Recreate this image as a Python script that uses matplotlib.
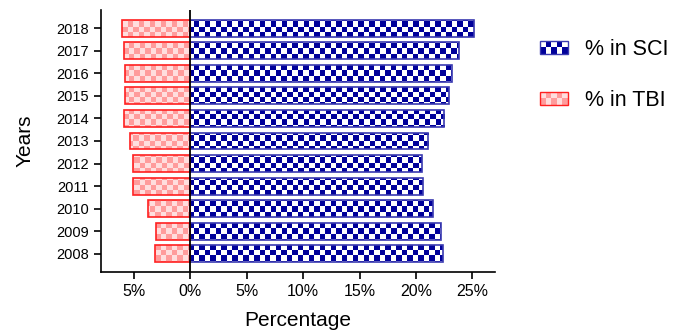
import numpy as np
import matplotlib
matplotlib.use("Agg")
import matplotlib.pyplot as plt
from matplotlib.colors import ListedColormap
from matplotlib.patches import Rectangle
from matplotlib.legend_handler import HandlerBase
from matplotlib.ticker import FuncFormatter

plt.rcParams['font.family'] = ['Liberation Sans', 'DejaVu Sans']

years = [2008, 2009, 2010, 2011, 2012, 2013, 2014, 2015, 2016, 2017, 2018]
sci_pct = [22.4, 22.2, 21.5, 20.6, 20.5, 21.1, 22.5, 22.9, 23.2, 23.8, 25.1]
tbi_pct = [3.1, 3.0, 3.7, 5.1, 5.1, 5.3, 5.9, 5.8, 5.8, 5.9, 6.0]
x_ticks = [-5, 0, 5, 10, 15, 20, 25]

SCI_DARK, SCI_LIGHT, SCI_EDGE = "#00009a", "#ffffff", "#3a3ab0"
TBI_DARK, TBI_LIGHT, TBI_EDGE = "#ff9c9c", "#ffdede", "#ff2020"
CELL_PX = 5.5


def checker_fill(ax, fig, bars, c1, c2):
    # tile a checkerboard over the axes and clip it to each bar outline
    x0, x1 = ax.get_xlim()
    y0, y1 = ax.get_ylim()
    pos = ax.get_position()
    w_px = pos.width * fig.get_figwidth() * fig.dpi
    h_px = pos.height * fig.get_figheight() * fig.dpi
    nx, ny = int(round(w_px / CELL_PX)), int(round(h_px / CELL_PX))
    grid = np.indices((ny, nx)).sum(0) % 2
    cmap = ListedColormap([c1, c2])
    for bar in bars:
        im = ax.imshow(grid, cmap=cmap, extent=(x0, x1, y0, y1), aspect="auto",
                       interpolation="nearest", origin="lower", zorder=1)
        im.set_clip_path(bar)
    ax.set_xlim(x0, x1)
    ax.set_ylim(y0, y1)


class CheckerHandler(HandlerBase):
    def __init__(self, c1, c2, edge, nx=5, ny=2):
        super().__init__()
        self.c1, self.c2, self.edge = c1, c2, edge
        self.nx, self.ny = nx, ny

    def create_artists(self, legend, orig_handle, xdescent, ydescent,
                       width, height, fontsize, trans):
        cw, ch = width / self.nx, height / self.ny
        out = []
        for i in range(self.nx):
            for j in range(self.ny):
                col = self.c1 if (i + j) % 2 == 0 else self.c2
                out.append(Rectangle((-xdescent + i * cw, -ydescent + j * ch), cw, ch,
                                     facecolor=col, edgecolor="none", transform=trans))
        out.append(Rectangle((-xdescent, -ydescent), width, height, facecolor="none",
                             edgecolor=self.edge, lw=1.0, transform=trans))
        return out


fig = plt.figure(figsize=(6.84, 3.34), dpi=100)
ax = fig.add_axes([101 / 684, 62 / 334, 394 / 684, 262 / 334])
ax.set_xlim(-7.9, 27.0)
ax.set_ylim(-0.8, 10.8)

ypos = np.arange(len(years))
sci_bars = ax.barh(ypos, sci_pct, height=0.75, facecolor="none",
                   edgecolor=SCI_EDGE, lw=1.2, zorder=2)
tbi_bars = ax.barh(ypos, [-v for v in tbi_pct], height=0.75, facecolor="none",
                   edgecolor=TBI_EDGE, lw=1.2, zorder=2)
checker_fill(ax, fig, sci_bars, SCI_DARK, SCI_LIGHT)
checker_fill(ax, fig, tbi_bars, TBI_DARK, TBI_LIGHT)

ax.axvline(0, color="black", lw=1.3, zorder=3)

ax.set_yticks(ypos)
ax.set_yticklabels([str(y) for y in years], fontsize=10.5)
ax.set_xticks(x_ticks)
ax.xaxis.set_major_formatter(FuncFormatter(lambda v, p: f"{abs(v):.0f}%"))
ax.tick_params(axis="x", labelsize=11.5)
ax.tick_params(direction="out", length=5, width=1.2)
for side in ("top", "right"):
    ax.spines[side].set_visible(False)
for side in ("left", "bottom"):
    ax.spines[side].set_linewidth(1.2)

ax.set_xlabel("Percentage", fontsize=15, labelpad=9)
ax.set_ylabel("Years", fontsize=15, labelpad=16)

h_sci = Rectangle((0, 0), 1, 1)
h_tbi = Rectangle((0, 0), 1, 1)
fig.legend([h_sci, h_tbi], ["% in SCI", "% in TBI"],
           handler_map={h_sci: CheckerHandler(SCI_DARK, SCI_LIGHT, SCI_EDGE),
                        h_tbi: CheckerHandler(TBI_DARK, TBI_LIGHT, TBI_EDGE)},
           loc="center left", bbox_to_anchor=(540 / 684, 1 - 75 / 334),
           frameon=False, fontsize=15.5, handlelength=1.3, handleheight=0.55,
           handletextpad=0.8, labelspacing=1.4, borderpad=0, borderaxespad=0)

fig.savefig("out.png", dpi=100)
